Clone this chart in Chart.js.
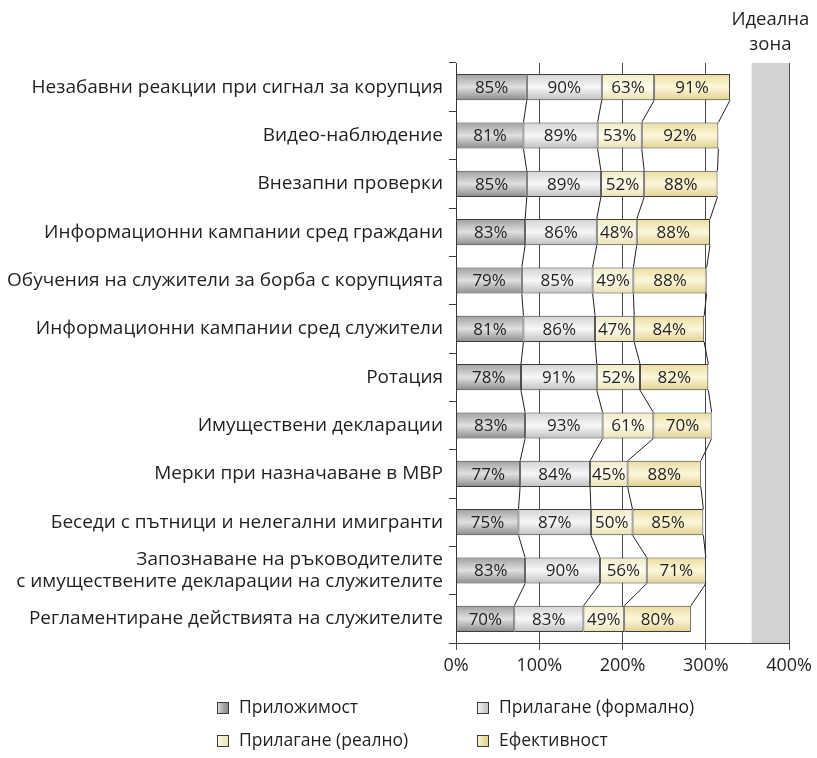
<!DOCTYPE html>
<html>
<head>
<meta charset="utf-8">
<script src="https://cdn.jsdelivr.net/npm/chart.js@4/dist/chart.umd.min.js"></script>
<style>
  html, body { margin: 0; padding: 0; background: #fff; }
  #wrap { width: 817px; height: 758px; position: relative; }
</style>
</head>
<body>
<div id="wrap"><canvas id="myChart"></canvas></div>
<script>
// данни
var categories = [
  "Незабавни реакции при сигнал за корупция",
  "Видео-наблюдение",
  "Внезапни проверки",
  "Информационни кампании сред граждани",
  "Обучения на служители за борба с корупцията",
  "Информационни кампании сред служители",
  "Ротация",
  "Имуществени декларации",
  "Мерки при назначаване в МВР",
  "Беседи с пътници и нелегални имигранти",
  ["Запознаване на ръководителите", "с имуществените декларации на служителите"],
  "Регламентиране действията на служителите"
];
var seriesNames = ["Приложимост", "Прилагане (формално)", "Прилагане (реално)", "Ефективност"];
var prilozhimost = [85, 81, 85, 83, 79, 81, 78, 83, 77, 75, 83, 70];
var formalno     = [90, 89, 89, 86, 85, 86, 91, 93, 84, 87, 90, 83];
var realno       = [63, 53, 52, 48, 49, 47, 52, 61, 45, 50, 56, 49];
var efektivnost  = [91, 92, 88, 88, 88, 84, 82, 70, 88, 85, 71, 80];
var xTicks = [0, 100, 200, 300, 400];
var idealZone = [355, 400];
var idealTitle = ["Идеална", "зона"];

var FONT = "'Open Sans', 'Noto Sans', sans-serif";
var TEXT = "#231f20";

// цветове: горе, среда, долу
var shades = [
  ["#a0a0a2", "#e0e0e1", "#8a8a8c"],
  ["#d2d2d4", "#f7f7f7", "#c0c0c2"],
  ["#f0eac6", "#fffdef", "#e9e0b2"],
  ["#eadd9e", "#fcf7dc", "#e2d190"]
];

function barFill(idx) {
  return function(c) {
    var chart = c.chart;
    var y = chart.scales.y;
    if (!y || c.dataIndex === undefined || !chart.chartArea) return shades[idx][1];
    var center = y.getPixelForValue(c.dataIndex);
    var half = y.height / categories.length * 0.54 / 2;
    var g = chart.ctx.createLinearGradient(0, center - half, 0, center + half);
    g.addColorStop(0, shades[idx][0]);
    g.addColorStop(0.5, shades[idx][1]);
    g.addColorStop(1, shades[idx][2]);
    return g;
  };
}

// идеална зона
var zonePlugin = {
  id: "zone",
  beforeDraw: function(chart) {
    var ctx = chart.ctx, x = chart.scales.x, a = chart.chartArea;
    var x1 = x.getPixelForValue(idealZone[0]);
    var x2 = x.getPixelForValue(idealZone[1]);
    ctx.save();
    ctx.fillStyle = "#d1d2d4";
    ctx.fillRect(x1, a.top, x2 - x1, a.bottom - a.top);
    ctx.fillStyle = TEXT;
    ctx.font = "18.5px " + FONT;
    ctx.textAlign = "center";
    ctx.textBaseline = "middle";
    var cx = (x1 + x2) / 2;
    ctx.fillText(idealTitle[0], cx, 20);
    ctx.fillText(idealTitle[1], cx, 45);
    ctx.restore();
  }
};

// линии между стълбовете и етикети
var linesPlugin = {
  id: "lines",
  afterDatasetsDraw: function(chart) {
    var ctx = chart.ctx;
    ctx.save();
    ctx.strokeStyle = TEXT;
    ctx.lineWidth = 1;
    chart.data.datasets.forEach(function(ds, d) {
      var bars = chart.getDatasetMeta(d).data;
      for (var i = 0; i < bars.length - 1; i++) {
        var a = bars[i], b = bars[i + 1];
        ctx.beginPath();
        ctx.moveTo(a.x, a.y + a.height / 2);
        ctx.lineTo(b.x, b.y - b.height / 2);
        ctx.stroke();
      }
    });
    ctx.fillStyle = TEXT;
    ctx.font = "17px " + FONT;
    ctx.textAlign = "center";
    ctx.textBaseline = "middle";
    chart.data.datasets.forEach(function(ds, d) {
      chart.getDatasetMeta(d).data.forEach(function(bar, i) {
        ctx.fillText(ds.data[i] + "%", (bar.x + bar.base) / 2, bar.y + 1);
      });
    });
    ctx.restore();
  }
};

// легенда 2x2
var legendPlugin = {
  id: "legend2",
  afterDraw: function(chart) {
    var ctx = chart.ctx;
    var cols = [217, 477], rows = [708, 741];
    ctx.save();
    ctx.font = "17.5px " + FONT;
    ctx.textBaseline = "middle";
    ctx.textAlign = "left";
    seriesNames.forEach(function(name, i) {
      var bx = cols[i % 2], by = rows[Math.floor(i / 2)];
      var g = ctx.createLinearGradient(bx, 0, bx + 12, 0);
      g.addColorStop(0, shades[i][1]);
      g.addColorStop(0.6, shades[i][0]);
      g.addColorStop(1, shades[i][2]);
      ctx.fillStyle = g;
      ctx.fillRect(bx, by - 6, 12, 12);
      ctx.strokeStyle = "#3a3a3a";
      ctx.lineWidth = 1;
      ctx.strokeRect(bx + 0.5, by - 5.5, 11, 11);
      ctx.fillStyle = TEXT;
      ctx.fillText(name, bx + 22, by);
    });
    ctx.restore();
  }
};

var allSeries = [prilozhimost, formalno, realno, efektivnost];

var chart = new Chart("myChart", {
  type: "bar",
  data: {
    labels: categories,
    datasets: allSeries.map(function(vals, i) {
      return {
        label: seriesNames[i],
        data: vals,
        backgroundColor: barFill(i),
        borderColor: "#3d3d3d",
        borderWidth: 1,
        borderSkipped: false,
        barPercentage: 0.54,
        categoryPercentage: 1
      };
    })
  },
  options: {
    indexAxis: "y",
    responsive: true,
    maintainAspectRatio: false,
    animation: false,
    layout: { padding: { left: 0, right: 26, top: 63, bottom: 85 } },
    plugins: {
      legend: { display: false },
      tooltip: { enabled: false }
    },
    scales: {
      x: {
        stacked: true,
        min: 0,
        max: 400,
        afterBuildTicks: function(s) { s.ticks = xTicks.map(function(v) { return { value: v }; }); },
        afterFit: function(s) { s.height = 30; },
        ticks: {
          color: TEXT,
          font: { family: FONT, size: 18 },
          padding: 5,
          maxRotation: 0,
          callback: function(v) { return v + "%"; }
        },
        grid: { color: "#4a4a4a", lineWidth: 1, tickLength: 7, drawOnChartArea: true },
        border: { color: "#3a3a3a", width: 1 }
      },
      y: {
        stacked: true,
        afterFit: function(s) { s.width = 456; },
        ticks: {
          color: TEXT,
          font: { family: FONT, size: 19, lineHeight: 1.2 },
          padding: 6,
          autoSkip: false
        },
        grid: { drawOnChartArea: false, tickLength: 7, color: "#3a3a3a", offset: true },
        border: { color: "#3a3a3a", width: 1 }
      }
    }
  },
  plugins: [zonePlugin, linesPlugin, legendPlugin]
});
</script>
</body>
</html>
